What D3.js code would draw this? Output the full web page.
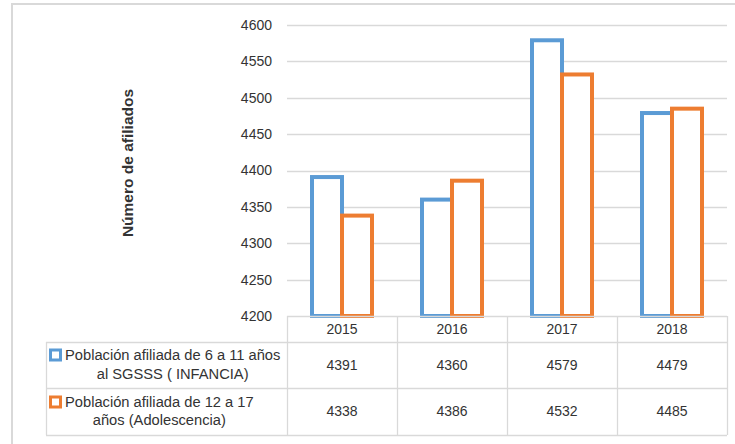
<!DOCTYPE html>
<html>
<head>
<meta charset="utf-8">
<script src="https://cdn.jsdelivr.net/npm/d3@7/dist/d3.min.js"></script>
<style>
  html, body { margin: 0; padding: 0; background: #fff; }
  svg { display: block; }
  text { font-family: "Liberation Sans", Arial, sans-serif; fill: #333; }
</style>
</head>
<body>
<svg id="chart" width="735" height="444"></svg>
<script>
const years = ["2015", "2016", "2017", "2018"];
const infancia = [4391, 4360, 4579, 4479];
const adolescencia = [4338, 4386, 4532, 4485];
const seriesNames = [
  ["Población afiliada de 6 a 11 años", "al SGSSS ( INFANCIA)"],
  ["Población afiliada de 12 a 17", "años (Adolescencia)"]
];
const seriesColors = ["#5B9BD5", "#ED7D31"];
const yTicks = [4200, 4250, 4300, 4350, 4400, 4450, 4500, 4550, 4600];
const yTitle = "Número de afiliados";

const series = [infancia, adolescencia];

const svg = d3.select("#chart");
const gridColor = "#D9D9D9";

// outer chart border
svg.append("path")
  .attr("d", "M12,444 V4 H735")
  .attr("fill", "none")
  .attr("stroke", gridColor)
  .attr("stroke-width", 2);

const plotLeft = 287, plotRight = 727, plotTop = 25, plotBottom = 316;

const y = d3.scaleLinear().domain([4200, 4600]).range([plotBottom, plotTop]);
const x = d3.scaleBand().domain(years).range([plotLeft, plotRight])
  .paddingInner(50 / 110).paddingOuter(25 / 110);
const xs = d3.scaleBand().domain(d3.range(series.length)).range([0, x.bandwidth()]);

// gridlines
svg.append("g")
  .selectAll("line")
  .data(yTicks.filter(t => t !== 4200))
  .join("line")
  .attr("x1", plotLeft).attr("x2", plotRight)
  .attr("y1", d => Math.round(y(d)) + 0.5).attr("y2", d => Math.round(y(d)) + 0.5)
  .attr("stroke", gridColor).attr("stroke-width", 1.3);

// y axis labels via d3 axis
const yAxis = d3.axisLeft(y).tickValues(yTicks).tickSize(0).tickPadding(0).tickFormat(d3.format("d"));
const yg = svg.append("g").attr("transform", "translate(272,0)").call(yAxis);
yg.select(".domain").remove();
yg.selectAll("text")
  .style("font-family", "'Liberation Sans', Arial, sans-serif")
  .style("font-size", "14px")
  .attr("fill", "#333");

// y title
svg.append("text")
  .attr("transform", "translate(133,163) rotate(-90)")
  .attr("text-anchor", "middle")
  .style("font-size", "15.5px")
  .style("font-weight", "bold")
  .text(yTitle);

// bars
series.forEach((vals, si) => {
  svg.append("g")
    .selectAll("rect")
    .data(vals)
    .join("rect")
    .attr("x", (d, i) => x(years[i]) + xs(si))
    .attr("y", d => y(d))
    .attr("width", xs.bandwidth())
    .attr("height", d => y(4200) - y(d))
    .attr("fill", "#fff")
    .attr("stroke", seriesColors[si])
    .attr("stroke-width", 4);
});

// data table
const tableLeft = 46;
const rowTops = [316, 342, 388, 435];
const colEdges = [plotLeft].concat(years.map(yr => x(yr) + x.bandwidth() + x.step() * x.paddingInner() / 2));
colEdges[colEdges.length - 1] = plotRight;

const tg = svg.append("g").attr("stroke", gridColor).attr("stroke-width", 1.3);
tg.append("line").attr("x1", plotLeft).attr("x2", plotRight).attr("y1", rowTops[0] + 0.5).attr("y2", rowTops[0] + 0.5);
[1, 2, 3].forEach(r => {
  tg.append("line").attr("x1", tableLeft).attr("x2", plotRight)
    .attr("y1", rowTops[r] + 0.5).attr("y2", rowTops[r] + 0.5);
});
tg.append("line").attr("x1", tableLeft + 0.5).attr("x2", tableLeft + 0.5).attr("y1", rowTops[1]).attr("y2", rowTops[3]);
colEdges.forEach(cx => {
  tg.append("line").attr("x1", cx + 0.5).attr("x2", cx + 0.5).attr("y1", rowTops[0]).attr("y2", rowTops[3]);
});

// header text
svg.append("g").selectAll("text").data(years).join("text")
  .attr("x", d => x(d) + x.bandwidth() / 2)
  .attr("y", 334)
  .attr("text-anchor", "middle")
  .style("font-size", "14px")
  .text(d => d);

// values
const rowCenters = [370, 416];
series.forEach((vals, si) => {
  svg.append("g").selectAll("text").data(vals).join("text")
    .attr("x", (d, i) => x(years[i]) + x.bandwidth() / 2)
    .attr("y", rowCenters[si])
    .attr("text-anchor", "middle")
    .style("font-size", "14px")
    .text(d => d);
});

// legend cells
const line1Y = [359.5, 406.5];
const line2Y = [379, 425];
seriesNames.forEach((lines, si) => {
  svg.append("rect")
    .attr("x", 50.5).attr("y", line1Y[si] - 9.5)
    .attr("width", 10).attr("height", 10)
    .attr("fill", "#fff")
    .attr("stroke", seriesColors[si])
    .attr("stroke-width", 3);
  const t1 = svg.append("text")
    .attr("x", 65).attr("y", line1Y[si])
    .style("font-size", "14.7px")
    .text(lines[0]);
  const w = t1.node().getComputedTextLength();
  svg.append("text")
    .attr("x", 65 + w / 2).attr("y", line2Y[si])
    .attr("text-anchor", "middle")
    .style("font-size", "14.7px")
    .text(lines[1]);
});
</script>
</body>
</html>
